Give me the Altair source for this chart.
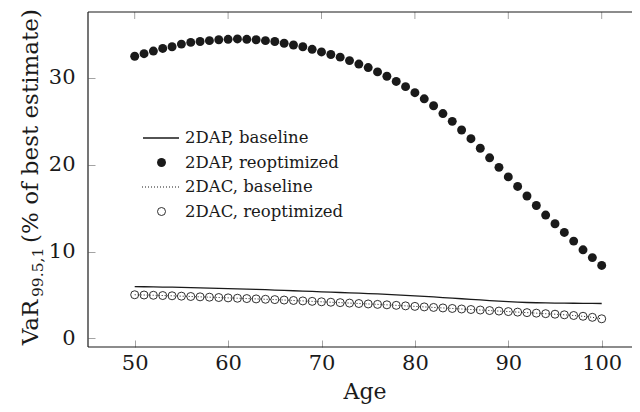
import altair as alt
import pandas as pd

# ---------------- data ----------------
ages = list(range(50, 101))

dap_baseline = [5.95, 5.94, 5.93, 5.91, 5.89, 5.87, 5.85, 5.82, 5.79, 5.76,
                5.73, 5.70, 5.67, 5.63, 5.60, 5.56, 5.52, 5.48, 5.44, 5.40,
                5.36, 5.32, 5.28, 5.24, 5.20, 5.16, 5.11, 5.06, 5.01, 4.95,
                4.89, 4.83, 4.77, 4.70, 4.63, 4.56, 4.49, 4.42, 4.35, 4.28,
                4.22, 4.17, 4.13, 4.10, 4.08, 4.06, 4.05, 4.04, 4.03, 4.02,
                4.01]

dap_reoptimized = [32.5, 32.8, 33.1, 33.4, 33.6, 33.9, 34.1, 34.2, 34.3, 34.4,
                   34.45, 34.5, 34.45, 34.4, 34.3, 34.2, 34.0, 33.8, 33.6, 33.3,
                   33.0, 32.7, 32.4, 32.0, 31.6, 31.2, 30.7, 30.2, 29.6, 29.0,
                   28.3, 27.6, 26.8, 25.9, 25.0, 24.0, 23.0, 21.9, 20.8, 19.7,
                   18.6, 17.5, 16.4, 15.3, 14.2, 13.2, 12.2, 11.2, 10.2, 9.3,
                   8.4]

dac_baseline = [5.02, 4.99, 4.96, 4.93, 4.90, 4.86, 4.82, 4.78, 4.74, 4.70,
                4.66, 4.62, 4.58, 4.54, 4.50, 4.46, 4.41, 4.36, 4.31, 4.26,
                4.21, 4.16, 4.11, 4.06, 4.01, 3.96, 3.91, 3.86, 3.80, 3.74,
                3.68, 3.62, 3.56, 3.50, 3.44, 3.38, 3.32, 3.26, 3.20, 3.14,
                3.08, 3.02, 2.96, 2.90, 2.84, 2.78, 2.71, 2.63, 2.54, 2.42,
                2.25]

dac_reoptimized = [5.02, 4.99, 4.96, 4.93, 4.90, 4.86, 4.82, 4.78, 4.74, 4.70,
                   4.66, 4.62, 4.58, 4.54, 4.50, 4.46, 4.41, 4.36, 4.31, 4.26,
                   4.21, 4.16, 4.11, 4.06, 4.01, 3.96, 3.91, 3.86, 3.80, 3.74,
                   3.68, 3.62, 3.56, 3.50, 3.44, 3.38, 3.32, 3.26, 3.20, 3.14,
                   3.08, 3.02, 2.96, 2.90, 2.84, 2.78, 2.71, 2.63, 2.54, 2.42,
                   2.25]

x_ticks = [50, 60, 70, 80, 90, 100]
y_ticks = [0, 10, 20, 30]
legend_labels = ["2DAP, baseline", "2DAP, reoptimized",
                 "2DAC, baseline", "2DAC, reoptimized"]
x_title = "Age"
y_title_parts = ["VaR", "99.5,1", "(% of best estimate)"]

# ---------------- chart ----------------
FONT = "DejaVu Serif"
INK = "#1a1a1a"
TICK = "#8c8c8c"
W, H = 544, 335

df = pd.DataFrame({
    "age": ages,
    "dap_base": dap_baseline,
    "dap_reopt": dap_reoptimized,
    "dac_base": dac_baseline,
    "dac_reopt": dac_reoptimized,
})

xs = alt.Scale(domain=[45, 45 + W / 9.34], nice=False, zero=False)
ys = alt.Scale(domain=[-1.0, 37.6], nice=False, zero=False)

x_axis = alt.Axis(values=x_ticks, offset=-7, tickSize=7, tickWidth=0.8,
                  tickColor=TICK, domain=False, grid=False,
                  labelFont=FONT, labelFontSize=21, labelColor=INK,
                  labelPadding=5, labelFlush=False, title=None)
y_axis = alt.Axis(values=y_ticks, offset=-7, tickSize=7, tickWidth=0.8,
                  tickColor=TICK, domain=False, grid=False,
                  labelFont=FONT, labelFontSize=21, labelColor=INK,
                  labelPadding=13, labelFlush=False, title=None)


def X(field):
    return alt.X(f"{field}:Q", scale=xs, axis=x_axis)


def Y(field):
    return alt.Y(f"{field}:Q", scale=ys, axis=y_axis)


DOT_SIZE = 80
CIRC_SIZE = 64

base = alt.Chart(df)

line_dap = base.mark_line(color=INK, strokeWidth=1.3).encode(x=X("age"), y=Y("dap_base"))
dots_dap = base.mark_point(filled=True, size=DOT_SIZE, color=INK, opacity=1).encode(
    x=X("age"), y=Y("dap_reopt"))
line_dac = base.mark_line(color=INK, strokeWidth=1.0, strokeDash=[1, 2]).encode(
    x=X("age"), y=Y("dac_base"))
circ_dac = base.mark_point(filled=False, size=CIRC_SIZE, color=INK, strokeWidth=0.9,
                           opacity=1).encode(x=X("age"), y=Y("dac_reopt"))

# top inward ticks
top_ticks = alt.Chart(pd.DataFrame({"t": x_ticks})).mark_rule(
    color=TICK, strokeWidth=0.8).encode(
    x=X("t"), y=alt.value(0), y2=alt.value(7))

# frame (left, top, bottom; the right edge lies beyond the picture)
one = pd.DataFrame({"k": [0]})
frame = [
    alt.Chart(one).mark_rule(color=INK, strokeWidth=1.2).encode(
        x=alt.value(0), x2=alt.value(W + 2), y=alt.value(0)),
    alt.Chart(one).mark_rule(color=INK, strokeWidth=1.2).encode(
        x=alt.value(0), x2=alt.value(W + 2), y=alt.value(H)),
    alt.Chart(one).mark_rule(color=INK, strokeWidth=1.2).encode(
        x=alt.value(0), y=alt.value(0), y2=alt.value(H)),
]


def txt(s, size, x, y, angle=0, align="left"):
    return alt.Chart(pd.DataFrame({"s": [s]})).mark_text(
        font=FONT, fontSize=size, color=INK, angle=angle, align=align,
        baseline="alphabetic").encode(text="s:N", x=alt.value(x), y=alt.value(y))


ytitle = [
    txt(y_title_parts[0], 23, -50, 333.3, 270),
    txt(y_title_parts[1], 15.5, -45, 285, 270),
    txt(y_title_parts[2], 23, -50, 231, 270),
]
xtitle = txt(x_title, 22, 277, 387, 0, "center")

# legend
leg_rows = [126, 150.5, 175, 199.5]
leg = []
for i, lab in enumerate(legend_labels):
    d = pd.DataFrame({"label": [lab]})
    yv = leg_rows[i]
    if i == 0:
        leg.append(alt.Chart(d).mark_rule(color=INK, strokeWidth=1.3).encode(
            x=alt.value(55), x2=alt.value(91), y=alt.value(yv)))
    elif i == 2:
        leg.append(alt.Chart(d).mark_rule(color=INK, strokeWidth=1.0, strokeDash=[1, 2]).encode(
            x=alt.value(54), x2=alt.value(91), y=alt.value(yv)))
    elif i == 1:
        leg.append(alt.Chart(d).mark_point(filled=True, size=DOT_SIZE, color=INK, opacity=1).encode(
            x=alt.value(73.5), y=alt.value(yv)))
    else:
        leg.append(alt.Chart(d).mark_point(filled=False, size=CIRC_SIZE, color=INK,
                                           strokeWidth=0.9, opacity=1).encode(
            x=alt.value(73.5), y=alt.value(yv)))
    leg.append(alt.Chart(d).mark_text(font=FONT, fontSize=16.5, color=INK, align="left",
                                      baseline="middle").encode(
        text="label:N", x=alt.value(97), y=alt.value(yv)))

chart = alt.layer(
    line_dap, dots_dap, line_dac, circ_dac, top_ticks, *frame, *ytitle, xtitle, *leg
).properties(
    width=W, height=H,
    autosize=alt.AutoSizeParams(type="none"),
    padding={"left": 80, "top": 4, "right": 0, "bottom": 60},
    background="white",
).configure_view(stroke=None)

chart.save("out.html", embed_options={"renderer": "svg", "actions": False})
